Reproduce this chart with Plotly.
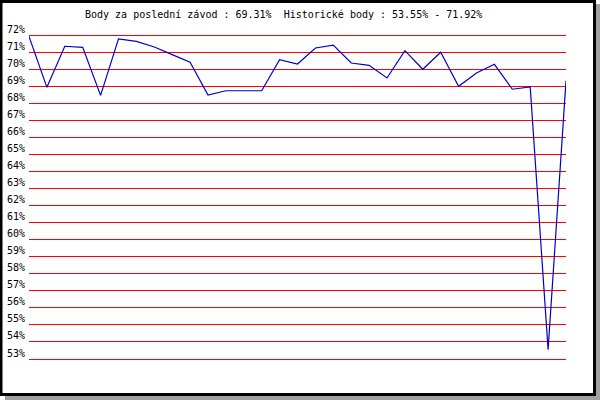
import plotly.graph_objects as go

race_index = list(range(31))
points_pct = [71.92, 68.93, 71.34, 71.28, 68.46, 71.77, 71.63, 71.30, 70.85, 70.40,
              68.48, 68.73, 68.73, 68.73, 70.55, 70.30, 71.24, 71.41, 70.36, 70.22,
              69.48, 71.08, 69.99, 70.99, 68.99, 69.77, 70.28, 68.82, 68.95, 53.55,
              69.31]
tick_values = list(range(53, 73))
tick_labels = [f"{v}%" for v in tick_values]
title_text = "Body za poslední závod : 69.31%  Historické body : 53.55% - 71.92%"

W, H = 600, 400
L, R = 29, 566
PXU = 17.05           # pixels per 1 % on the y axis
PADPX = 3             # extend y range so edge gridlines are not clipped
EXT = PADPX / PXU
T, B = 35 - PADPX, 359 + PADPX


def px(x):
    return (x - L) / (R - L)


def py(y):
    return (B - y) / (B - T)


fig = go.Figure()
fig.add_trace(go.Scatter(x=race_index, y=points_pct, mode="lines",
                         line=dict(color="#0000cc", width=1.2),
                         hoverinfo="skip", showlegend=False))

shapes = [
    dict(type="rect", xref="paper", yref="paper", x0=px(5), x1=px(600), y0=py(4), y1=py(400),
         fillcolor="#a0a0a0", line=dict(width=0), layer="below"),
    dict(type="rect", xref="paper", yref="paper", x0=px(0), x1=px(596), y0=py(0), y1=py(396),
         fillcolor="#000000", line=dict(width=0), layer="below"),
    dict(type="rect", xref="paper", yref="paper", x0=px(2.5), x1=px(593), y0=py(3), y1=py(393),
         fillcolor="#ffffff", line=dict(width=0), layer="below"),
]

fig.update_layout(
    width=W, height=H,
    margin=dict(l=L, r=W - R, t=T, b=H - B, pad=0, autoexpand=False),
    paper_bgcolor="#ffffff",
    plot_bgcolor="rgba(0,0,0,0)",
    shapes=shapes,
    font=dict(family="DejaVu Sans Mono", size=10, color="#000000"),
    annotations=[dict(text=title_text, xref="paper", yref="paper",
                      x=px(83), y=py(14), xanchor="left", yanchor="middle",
                      showarrow=False, font=dict(family="DejaVu Sans Mono", size=10, color="#000000"))],
    xaxis=dict(range=[0, 30], visible=False, showgrid=False, zeroline=False, automargin=False),
    yaxis=dict(range=[53 - EXT, 72 + EXT], tickmode="array", tickvals=tick_values, ticktext=tick_labels,
               showgrid=True, gridcolor="#ff0000", gridwidth=1, zeroline=False, automargin=False,
               showline=False, ticks="", ticklabelshift=-6, ticklabelstandoff=3,
               tickfont=dict(family="DejaVu Sans Mono", size=10, color="#000000")),
)

fig.write_html("out.html",
               config={"displayModeBar": False, "staticPlot": True},
               post_script="document.body.style.margin='0';document.body.style.overflow='hidden';")
